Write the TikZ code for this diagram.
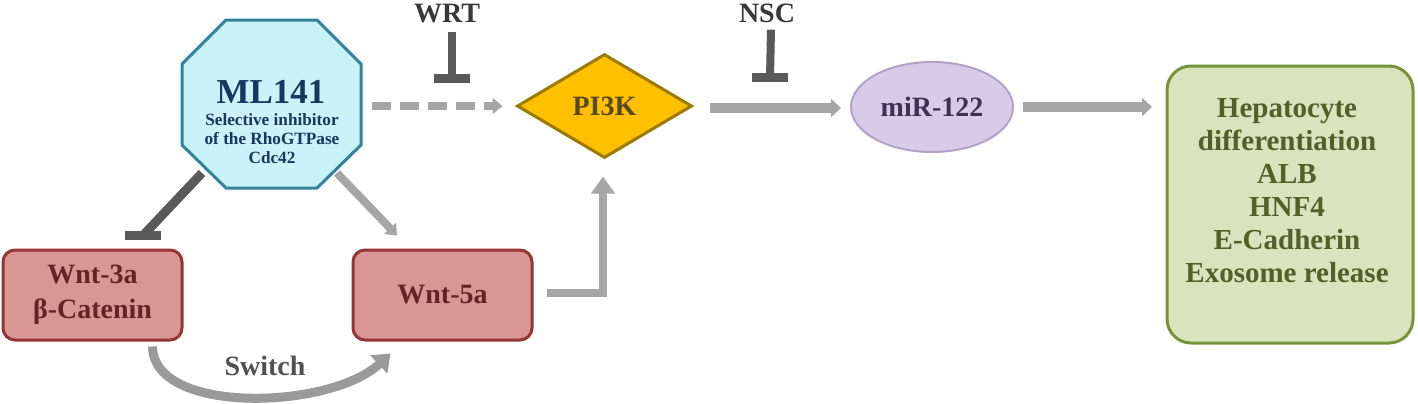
\documentclass[tikz,border=0pt]{standalone}
\usepackage{fontspec}
\setmainfont{Liberation Serif}
\usetikzlibrary{arrows.meta,shapes.geometric,calc}
\definecolor{cyanfill}{HTML}{C9F3F8}
\definecolor{cyanline}{HTML}{31849B}
\definecolor{navy}{HTML}{17375E}
\definecolor{goldfill}{HTML}{FFC000}
\definecolor{goldline}{HTML}{9C7A00}
\definecolor{goldtext}{HTML}{5A4A24}
\definecolor{lavfill}{HTML}{D6CCE8}
\definecolor{lavline}{HTML}{B3A2C7}
\definecolor{lavtext}{HTML}{3F3151}
\definecolor{redfill}{HTML}{D99694}
\definecolor{redline}{HTML}{943634}
\definecolor{redtext}{HTML}{632423}
\definecolor{grnfill}{HTML}{D7E4BD}
\definecolor{grnline}{HTML}{77933C}
\definecolor{grntext}{HTML}{4F6228}
\definecolor{arrgray}{HTML}{A6A6A6}
\definecolor{swgray}{HTML}{9A9A9A}
\definecolor{inhgray}{HTML}{595959}
\definecolor{lbltext}{HTML}{383838}
\begin{document}
\begin{tikzpicture}[x=0.5pt,y=-0.5pt,
  lblfont/.style={font=\bfseries\fontsize{14}{16}\selectfont},
  lbl/.style={lblfont, text=lbltext, inner sep=0pt},
  wntbox/.style={draw=redline, fill=redfill, line width=1.5pt, rounded corners=6pt,
    minimum width=89.5pt, minimum height=45pt, inner sep=0pt, align=center,
    text=redtext, font=\bfseries\fontsize{14}{17.5}\selectfont},
  mlsub/.style={font=\bfseries\fontsize{8.6}{9.5}\selectfont, text=navy, inner sep=0pt, anchor=base},
  garrow/.style={draw=arrgray, line width=4.5pt, -{Triangle[width=9pt,length=5.5pt]}},
  inhib/.style={draw=inhgray, line width=4.5pt},
  tbar/.style={draw=inhgray, line width=4.5pt},
]
\useasboundingbox (0,0) rectangle (1418,403);

% ML141 octagon
\draw[cyanline, fill=cyanfill, line width=1.5pt, line join=miter]
  (226,20) -- (317,20) -- (361,64) -- (361,145) -- (317,188) -- (226,188)
  -- (182,145) -- (182,64) -- cycle;
\node[font=\bfseries\fontsize{17.5}{17.5}\selectfont, text=navy, inner sep=0pt, anchor=base] (ml) at (271,103) {ML141};
\node[mlsub] (mls1) at (272,125) {Selective inhibitor};
\node[mlsub] (mls2) at (272,144) {of the RhoGTPase};
\node[mlsub] (mls3) at (272,163) {Cdc42};
\coordinate (mlE) at (372,106);
\coordinate (mlSW) at (202,173);
\coordinate (mlSE) at (337,173);

% nodes
\node[wntbox] (w3) at (92.5,295) {Wnt-3a\\β-Catenin};
\node[wntbox] (w5) at (442.5,295) {Wnt-5a};
\node[diamond, draw=goldline, fill=goldfill, line width=1.5pt, minimum width=87.5pt,
  minimum height=52pt, aspect=1.68, inner sep=0pt, text=goldtext, lblfont] (pi) at (604.5,106) {PI3K};
\node[ellipse, draw=lavline, fill=lavfill, line width=1pt, minimum width=81pt,
  minimum height=45pt, inner sep=0pt, text=lavtext, lblfont] (mir) at (932,107) {miR-122};
\node[draw=grnline, fill=grnfill, line width=1.5pt, rounded corners=12pt,
  minimum width=123pt, minimum height=138.5pt] (grn) at (1290,204.5) {};
\node[anchor=north, align=center, text=grntext, font=\bfseries\fontsize{14.5}{16.5}\selectfont,
  inner sep=0pt] (grntxt) at (1287,98) {Hepatocyte\\differentiation\\ALB\\HNF4\\E-Cadherin\\Exosome release};

% labels
\node[lbl, anchor=base] (wrt) at (447,22) {WRT};
\node[lbl, anchor=base] (nsc) at (767,22.5) {NSC};
\node[lbl, anchor=base, text=inhgray!90!black] (sw) at (265,375) {Switch};

% inhibitors
\coordinate (wrtbar) at (452,78.5);
\draw[inhib, line width=4pt] ([xshift=2.5pt,yshift=-4.5pt]wrt.south) -- (wrtbar);
\draw[tbar] ([xshift=-9pt]wrtbar) -- ([xshift=9pt]wrtbar);
\coordinate (nscbar) at (770,77);
\draw[inhib, line width=4pt] ([xshift=2pt,yshift=-3.25pt]nsc.south) -- (nscbar);
\draw[tbar] ([xshift=-9pt]nscbar) -- ([xshift=9pt]nscbar);
\coordinate (w3bar) at ([xshift=25.25pt,yshift=6.5pt]w3.north);
\draw[inhib] (mlSW) -- (w3bar);
\draw[tbar] ([xshift=-9pt]w3bar) -- ([xshift=9pt]w3bar);

% activating arrows
\coordinate (grnin) at (1152,107);
\draw[garrow, line width=4pt, dash pattern=on 9.5pt off 4.5pt,
  -{Triangle[width=8pt,length=5pt]}] (mlE) -- ([xshift=-6.5pt]pi.west);
\draw[garrow, line width=4pt, -{Triangle[width=8pt,length=5pt]}]
  (mlSE) -- ([xshift=-22.75pt,yshift=6.5pt]w5.north);
\draw[garrow, line width=4pt, line join=miter, -{Triangle[width=11.5pt,length=8.5pt]}]
  ([xshift=6.5pt,yshift=1pt]w5.east) -| ([xshift=-0.75pt,yshift=-8.5pt]pi.south);
\draw[garrow, line width=5pt, -{Triangle[width=9pt,length=5pt]}]
  ([xshift=8pt,yshift=-1pt]pi.east) -- ([xshift=-4.5pt,yshift=-0.5pt]mir.west);
\draw[garrow, line width=5pt, -{Triangle[width=9pt,length=5pt]}]
  ([xshift=4.5pt]mir.east) -- (grnin);
\draw[draw=swgray, line width=4.5pt, -{Triangle[width=12pt,length=8pt]}]
  ([xshift=30pt,yshift=-2.5pt]w3.south) .. controls (153,415) and (330,410) ..
  ([xshift=19.5pt,yshift=-6pt]w5.south west);
\end{tikzpicture}
\end{document}
